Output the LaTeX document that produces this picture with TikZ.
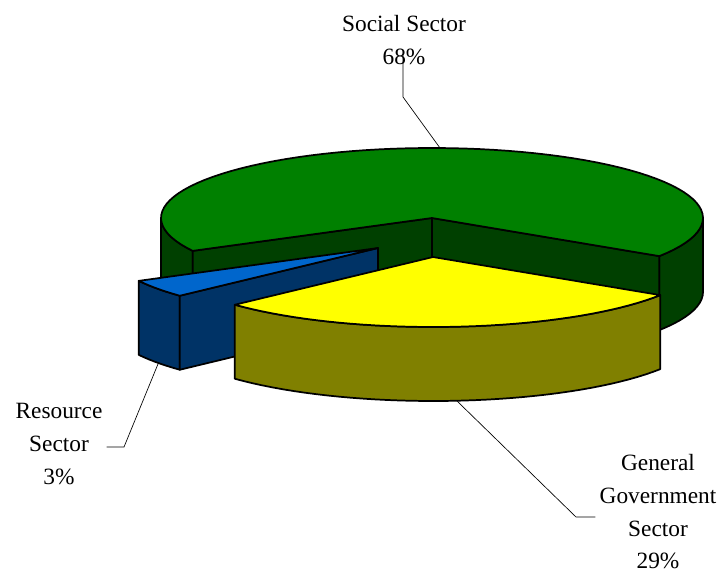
\documentclass[tikz,border=0pt]{standalone}
\usepackage{fontspec}
\setmainfont{Liberation Serif}
\definecolor{socialtop}{RGB}{0,128,0}
\definecolor{socialside}{RGB}{0,64,0}
\definecolor{generaltop}{RGB}{255,255,0}
\definecolor{generalside}{RGB}{128,128,0}
\definecolor{resourcetop}{RGB}{0,102,204}
\definecolor{resourceside}{RGB}{0,51,102}
\begin{document}
\begin{tikzpicture}[x=0.75pt,y=0.75pt,yscale=-1,xscale=1,
    face/.style={draw=black, line width=1.3pt, line join=round},
    leader/.style={draw=black, line width=0.5pt},
    lbl/.style={inner sep=0pt, align=center, font=\fontsize{17.5}{24.5}\selectfont}]
\useasboundingbox (0,0) rectangle (723,575);

%Social sector, left rim
\draw[face, fill=socialside] plot[domain=180:208, samples=12] ({432+271*cos(\x)},{218-70*sin(\x)}) -- plot[domain=208:180, samples=12] ({432+271*cos(\x)},{292-70*sin(\x)}) -- cycle;
%Social sector, right rim
\draw[face, fill=socialside] plot[domain=327:360, samples=12] ({432+271*cos(\x)},{218-70*sin(\x)}) -- plot[domain=360:327, samples=12] ({432+271*cos(\x)},{292-70*sin(\x)}) -- cycle;
%Social sector, cut faces
\draw[face, fill=socialside] (432,218) -- ({432+271*cos(208)},{218-70*sin(208)}) -- ({432+271*cos(208)},{292-70*sin(208)}) -- (432,292) -- cycle;
\draw[face, fill=socialside] (432,218) -- ({432+271*cos(327)},{218-70*sin(327)}) -- ({432+271*cos(327)},{292-70*sin(327)}) -- (432,292) -- cycle;
%Social sector, top
\draw[face, fill=socialtop] (432,218) -- plot[domain=-33:208, samples=80] ({432+271*cos(\x)},{218-70*sin(\x)}) -- cycle;

%Resource sector, rim
\draw[face, fill=resourceside] plot[domain=208:223, samples=8] ({378+271*cos(\x)},{248-70*sin(\x)}) -- plot[domain=223:208, samples=8] ({378+271*cos(\x)},{322-70*sin(\x)}) -- cycle;
%Resource sector, cut face
\draw[face, fill=resourceside] (378,248) -- ({378+271*cos(223)},{248-70*sin(223)}) -- ({378+271*cos(223)},{322-70*sin(223)}) -- (378,322) -- cycle;
%Resource sector, top
\draw[face, fill=resourcetop] (378,248) -- plot[domain=208:223, samples=8] ({378+271*cos(\x)},{248-70*sin(\x)}) -- cycle;

%General government sector, rim
\draw[face, fill=generalside] plot[domain=223:327, samples=40] ({433+271*cos(\x)},{257-70*sin(\x)}) -- plot[domain=327:223, samples=40] ({433+271*cos(\x)},{331-70*sin(\x)}) -- cycle;
%General government sector, top
\draw[face, fill=generaltop] (433,257) -- plot[domain=223:327, samples=40] ({433+271*cos(\x)},{257-70*sin(\x)}) -- cycle;

% Text Node
\node[lbl] (social) at (404,40) {Social Sector\\68\%};
% Text Node
\node[lbl] (resource) at (59,444) {Resource\\Sector\\3\%};
% Text Node
\node[lbl] (general) at (658,512) {General\\Government\\Sector\\29\%};

%Leader lines
\coordinate (socialbend) at (403,97);
\coordinate (socialtip) at (440,148);
\coordinate (resourcebend) at (124,447);
\coordinate (resourcetip) at (158,364);
\coordinate (generalbend) at (576,517);
\coordinate (generaltip) at (457,401);
\draw[leader] ([yshift=-8pt]social.south -| socialbend) -- (socialbend) -- (socialtip);
\draw[leader] ([xshift=3pt]resource.east |- resourcebend) -- (resourcebend) -- (resourcetip);
\draw[leader] ([xshift=-3pt]general.west |- generalbend) -- (generalbend) -- (generaltip);

\end{tikzpicture}
\end{document}
